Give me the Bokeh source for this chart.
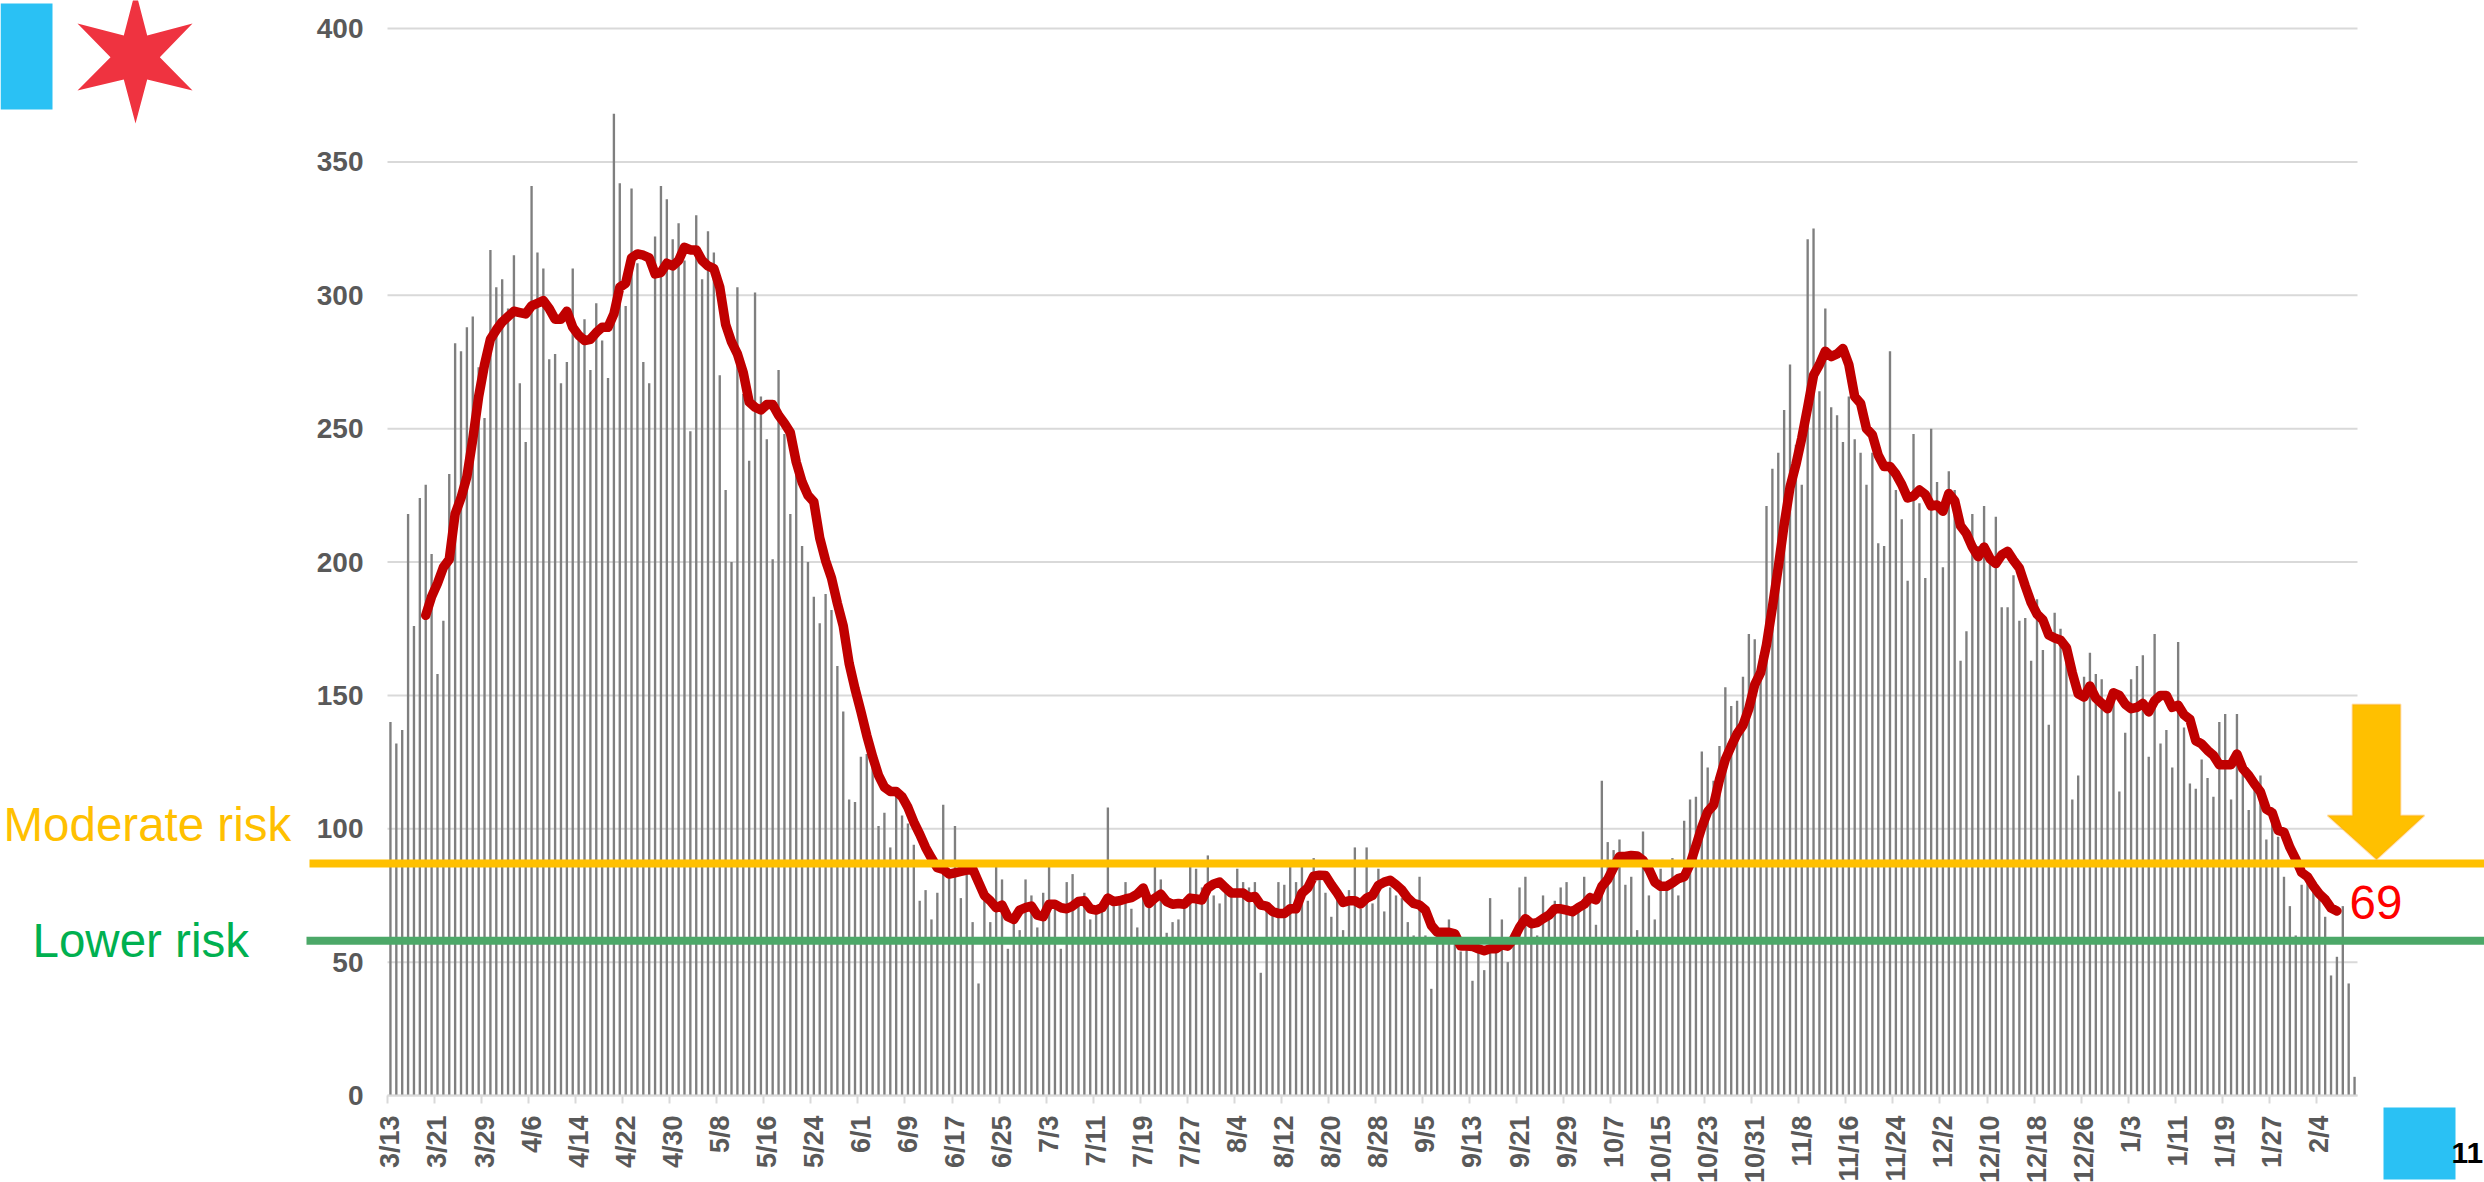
from bokeh.plotting import figure
from bokeh.models import FixedTicker, Label, BoxAnnotation, PolyAnnotation, ColumnDataSource
from bokeh.embed import file_html
from bokeh.resources import INLINE
import math

tick_labels = ["3/13","3/21","3/29","4/6","4/14","4/22","4/30","5/8","5/16","5/24","6/1","6/9","6/17","6/25",
    "7/3","7/11","7/19","7/27","8/4","8/12","8/20","8/28","9/5","9/13","9/21","9/29","10/7","10/15","10/23",
    "10/31","11/8","11/16","11/24","12/2","12/10","12/18","12/26","1/3","1/11","1/19","1/27","2/4"]
y_ticks = [0, 50, 100, 150, 200, 250, 300, 350, 400]

daily = [
 140,132,137,218,176,224,229,203,158,178,233,282,279,288,292,273,254,317,303,306,
 295,315,267,245,341,316,310,276,278,267,275,310,283,291,272,297,283,269,368,342,
 296,340,312,275,267,322,341,336,321,327,313,249,330,306,324,316,270,227,200,303,
 263,238,301,262,246,201,272,248,218,236,206,200,187,177,188,182,161,144,111,110,
 127,128,125,101,106,93,112,105,102,94,73,77,66,76,109,85,101,74,84,65,
 42,73,65,86,81,55,65,62,81,75,63,76,86,72,55,80,83,74,76,66,
 71,71,108,71,72,80,70,63,76,73,86,81,61,65,66,71,86,85,78,90,
 75,72,78,75,85,80,78,80,46,71,69,80,79,86,80,86,73,89,82,76,
 67,74,62,77,93,
 70,93,72,85,69,78,75,74,65,60,82,60,40,60,60,66,60,54,56,43,
 54,47,74,56,66,50,57,78,82,64,60,75,66,73,78,80,69,70,82,76,
 64,118,95,92,96,79,82,62,99,75,66,85,79,89,75,103,111,112,
 129,123,118,131,153,146,148,157,173,171,165,221,235,241,257,274,244,229,321,325,
 264,295,258,255,245,262,246,241,229,241,207,206,279,227,216,193,248,222,194,250,
 230,198,234,227,163,174,218,206,221,200,217,183,183,195,178,179,163,186,167,139,
 181,175,169,111,120,157,166,158,
 156,147,151,114,136,156,161,165,127,173,132,137,123,170,138,117,115,126,119,112,
 140,143,111,143,124,107,118,120,96,108,97,82,71,60,79,81,78,75,67,45,52,71,42,7]

avg_first_day = 6
rolling = [
 180,187,192,198,201,218,224,232,246,262,274,283.5,287,290,292,294,293.5,293,296,297,
 298,295,291,291,294,288,285,283,283.5,286,288,288,293,303,304.5,314,315.5,315,314,308,
 308.5,312,311,313,318,317,317,313,311,310,303,289,282.5,278,271,260,258,257,259,259,
 255,252,248.5,237.5,230,225,222.5,209,200.5,194,184.5,176,162,152.5,144,135,127,120,115.6,114,
 114,112,108,102.5,98,93,89,85.4,84.8,83,83.5,84,84.5,85,80,75,73,70.4,71.4,67,
 66,69.5,70.4,71,67.6,67,71.7,71.7,70.4,70,71,72.7,73,70,69.5,70.4,74,72.7,73,73.7,
 74.2,75.5,77.8,72,74,75.5,72.7,71.7,72,71.7,74,73.7,73.3,77.8,79.3,80,77.8,75.9,75.9,75.9,
 74.2,74.6,71.4,71,69,68.2,68.2,70,70,75.9,77.8,82.2,82.6,82.5,79,75.9,72.4,73,73,71.8,
 74,75,78.8,80,80.7,79,77,74,72,71.4,69.5,63.8,61.2,61.2,61.2,60.6,56,56,55.9,55,
 54.3,55,55,56.5,56,58.7,63,66.3,64.4,64.8,66.3,67.6,70,70,69.5,68.9,70.4,71.7,74.2,73.3,
 78.4,81,85.4,89.6,89.6,90,89.8,88.2,84.8,80,78.4,78.4,79.7,81.3,82,86.7,93.6,100.6,106.4,108.9,
 118.4,126,131,135.6,138.8,145,154,158.5,169,183,198,214,228,236.5,246.5,258,270,274,279,277,
 278,280,274,262,259.5,250,247.7,240,235.8,235.8,233,229,224,224.7,227,225.3,221,221.4,219,225.7,
 223,213.5,210.6,205.6,202,205.6,201.3,199.4,202.7,204,200.6,197.7,191,184.8,180.5,178.3,172.6,
 171.5,170.7,167.9,158.5,150.6,149.4,153.5,149,147,145,151,150,146.7,145,145.5,147,143.8,148,150,150,
 145.5,146.3,142.7,141,133,131.8,129.4,127.5,124,124,124,128,122.5,120,116.7,113.8,107.3,106,99.4,98.7,
 93,88.6,83.6,82,78.5,75.6,73.5,70.3,69.2]

moderate_risk = 87
lower_risk = 58
last_value = 69

assert len(daily) == 335, len(daily)
assert len(rolling) == 326, len(rolling)

W, H = 2484, 1182
X0, X1, Y0, Y1 = 387, 2357, 1095, 28   # pixels where the value axes run
def dx(px): return (px - X0) * len(daily) / (X1 - X0)
def dy(py): return (Y0 - py) * 400 / (Y0 - Y1)

# The frame covers the whole canvas; the axes sit at fixed locations inside it.
p = figure(width=W, height=H, output_backend="svg", toolbar_location=None,
           x_range=(dx(0), dx(W)), y_range=(dy(H), dy(0)),
           min_border=0, min_border_left=0, min_border_right=0, min_border_top=0, min_border_bottom=0,
           outline_line_color=None, background_fill_color="white", border_fill_color="white")

p.xgrid.visible = False
p.ygrid.visible = False
p.segment(x0=[0] * len(y_ticks), x1=[len(daily)] * len(y_ticks), y0=y_ticks, y1=y_ticks,
          line_color="#D9D9D9", line_width=2)

src = ColumnDataSource(dict(x=[i + 0.5 for i in range(len(daily))], top=daily))
p.vbar(x="x", top="top", bottom=0, width=0.4, source=src, fill_color="#7F7F7F", line_color=None)
p.line([avg_first_day + i + 0.5 for i in range(len(rolling))], rolling,
       line_color="#C00000", line_width=9.5, line_join="round", line_cap="round")

major = [8 * k + 0.5 for k in range(len(tick_labels))]
minor = [8 * k for k in range(len(tick_labels))]
ax = p.xaxis[0]
ax.fixed_location = 0
ax.bounds = (0, len(daily))
ax.ticker = FixedTicker(ticks=major, minor_ticks=minor)
ax.major_label_overrides = {m: t for m, t in zip(major, tick_labels)}
ax.major_label_orientation = math.pi / 2
ax.major_label_text_font = "Liberation Sans"
ax.major_label_text_font_style = "bold"
ax.major_label_text_font_size = "27px"
ax.major_label_text_color = "#595959"
ax.major_label_standoff = 12
ax.major_tick_line_color = None
ax.major_tick_out = 0
ax.major_tick_in = 0
ax.minor_tick_line_color = "#D9D9D9"
ax.minor_tick_line_width = 2
ax.minor_tick_out = 8
ax.minor_tick_in = 0
ax.axis_line_color = "#D9D9D9"
ax.axis_line_width = 2

ay = p.yaxis[0]
ay.fixed_location = 0
ay.bounds = (0, 400)
ay.ticker = FixedTicker(ticks=y_ticks)
ay.major_label_text_font = "Liberation Sans"
ay.major_label_text_font_style = "bold"
ay.major_label_text_font_size = "28px"
ay.major_label_text_color = "#595959"
ay.major_label_standoff = 24
ay.major_tick_line_color = None
ay.major_tick_out = 0
ay.major_tick_in = 0
ay.minor_tick_line_color = None
ay.axis_line_color = None

def band(value, left_px, color):
    half = 4 * 400 / (Y0 - Y1)
    p.add_layout(BoxAnnotation(left=dx(left_px), right=dx(W + 10), bottom=value - half, top=value + half,
                               fill_color=color, fill_alpha=1, line_color=None))

def box(l, r, t, b, color):
    p.add_layout(BoxAnnotation(left=dx(l), right=dx(r), bottom=dy(b), top=dy(t),
                               fill_color=color, fill_alpha=1, line_color=None))

def poly(points, fill, line=None, lw=0):
    p.add_layout(PolyAnnotation(xs=[dx(a) for a, _ in points], ys=[dy(b) for _, b in points],
                                fill_color=fill, fill_alpha=1, line_color=line, line_width=lw))

def text(s, px, py, size, color, bold=False):
    # a Label's alphabetic baseline lands about 0.37 em lower than asked
    p.add_layout(Label(x=dx(px), y=dy(py - 0.37 * size), text=s, text_font="Liberation Sans",
                       text_font_size=f"{size}px", text_color=color, text_baseline="alphabetic",
                       text_align="left", text_font_style="bold" if bold else "normal"))

band(moderate_risk, 309, "#FFC000")
band(lower_risk, 306, "#4CA868")

box(0, 52, 3, 109, "#2AC1F4")
box(2383, 2455, 1107, 1179, "#2AC1F4")

poly([(135, -10), (146.7, 35), (192, 23), (159.3, 56.7), (192, 90), (146.7, 79), (135, 123),
      (123.3, 79), (77, 90), (110, 56.7), (77, 23), (123.3, 35)], "#EF3340")

poly([(2352, 704), (2400, 704), (2400, 815), (2424, 815), (2376, 859), (2327, 815), (2352, 815)],
     "#FFC000", "#FFA21A", 2)

text("Moderate risk", 3, 842, 47.5, "#FFC000")
text("Lower risk", 32, 958, 47.5, "#00B050")
text(str(last_value), 2349, 920, 47.5, "#FF0000")
text("11", 2451, 1164, 30, "#000000", bold=True)

open("out.html", "w").write(file_html(p, INLINE))
